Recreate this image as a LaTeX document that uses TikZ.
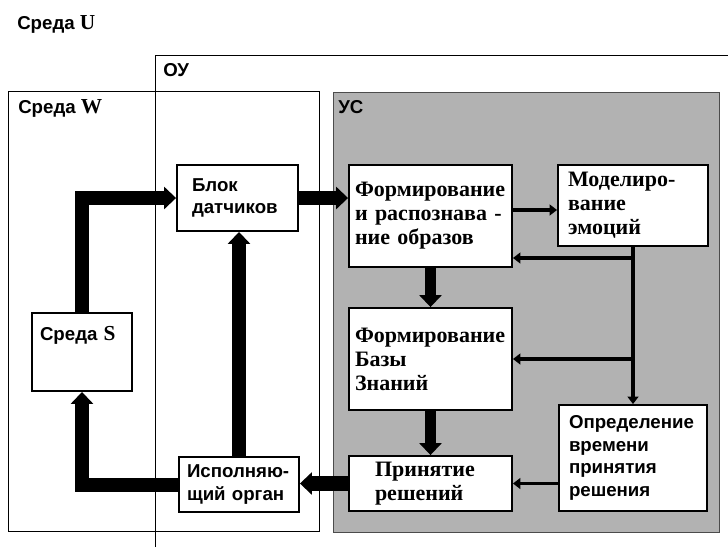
\documentclass[tikz,border=0pt]{standalone}
\usepackage{fontspec}
\setmainfont{Liberation Sans}
\newfontfamily\serf{Liberation Serif}
\newcommand{\lat}[1]{{\fontsize{16}{17}\selectfont\serf #1}}
\usetikzlibrary{arrows.meta}
\tikzset{
  unit/.style={draw, line width=1.4pt, fill=white, inner ysep=0pt, align=left},
  sansf/.style={font=\fontsize{14}{17}\selectfont\bfseries},
  seriff/.style={font=\fontsize{16.5}{18}\selectfont\serf\bfseries},
  fatarrow/.style={line width=#1, -{Triangle[length=9pt,width=16.5pt]}},
  slimarrow/.style={line width=#1, -{Triangle[length=5.5pt,width=8pt]}},
  area/.style={line width=0.6pt},
  tag/.style={sansf, anchor=base west, inner sep=0pt}
}
\begin{document}
\begin{tikzpicture}[x=0.75pt,y=-0.75pt]
  \useasboundingbox (0,0) rectangle (728,547);
  % areas
  \fill[black!30] (333,92) rectangle (719,532);
  \draw[area, black!70] (333,92) rectangle (719,532);
  \draw[area] (8,91) rectangle (319,531);
  \draw[area] (155,547) -- (155,55) -- (728,55);
  \node[tag] (envU) at (17,29) {Среда \lat{U}};
  \node[tag] (ou) at (163,76) {ОУ};
  \node[tag] (envW) at (18,113) {Среда \lat{W}};
  \node[tag] (us) at (338,113) {УС};
  % blocks
  \node[unit, sansf, inner xsep=11.25pt, text width=68.25pt, minimum height=49.5pt] (blok) at (237.5,198) {Блок\\датчиков};
  \node[unit, seriff, inner xsep=4.5pt, text width=113.25pt, minimum height=76.5pt] (form) at (430.5,216) {Формирование\\и распознава -\\ние образов};
  \node[unit, seriff, inner xsep=7.5pt, text width=97.5pt, minimum height=60.75pt] (model) at (633,205.5) {\mbox{Моделиро-}\\вание\\эмоций};
  \node[unit, seriff, inner xsep=4.5pt, text width=113.25pt, minimum height=76.5pt] (baza) at (430.5,359) {Формирование\\Базы\\Знаний};
  \node[unit, seriff, inner xsep=19.5pt, text width=83.25pt, minimum height=41.25pt] (prin) at (430.5,483.5) {Принятие\\решений};
  \node[unit, sansf, inner xsep=7.5pt, text width=96pt, minimum height=79.5pt] (opred) at (633,458) {Определение\\времени\\принятия\\решения};
  \node[unit, sansf, inner xsep=6pt, text width=78pt, minimum height=41.25pt] (isp) at (239,484.5) {\mbox{Исполняю-}\\\mbox{щий орган}};
  \node[unit, sansf, inner xsep=6pt, text width=63pt, minimum height=58.5pt, text height=10pt, text depth=28pt] (sredaS) at (82,352) {Среда \lat{S}};
  % connections
  \draw[fatarrow=11pt] (sredaS.north) |- (blok.west);
  \draw[fatarrow=10pt] (blok.east) -- (blok.east -| form.west);
  \draw[fatarrow=8pt] (form.south) -- (baza.north);
  \draw[fatarrow=8pt] (baza.south) -- (prin.north);
  \draw[fatarrow=11pt] (prin.west) -- (prin.west -| isp.east);
  \draw[fatarrow=11pt] (isp.north) -- (isp.north |- blok.south);
  \draw[fatarrow=10.5pt] (isp.west) -| (sredaS.south);
  \coordinate (j1) at (model.south |- 0,258);
  \coordinate (j2) at (model.south |- baza.east);
  \draw[slimarrow=3.5pt] ([yshift=4.5pt]form.east) -- ([yshift=4.5pt]form.east -| model.west);
  \draw[slimarrow=3.5pt] (model.south) -- (opred.north);
  \draw[slimarrow=3.5pt] (j1) -- (j1 -| form.east);
  \draw[slimarrow=3.5pt] (j2) -- (j2 -| baza.east);
  \draw[slimarrow=2.5pt] (opred.west |- prin.east) -- (prin.east);
\end{tikzpicture}
\end{document}
